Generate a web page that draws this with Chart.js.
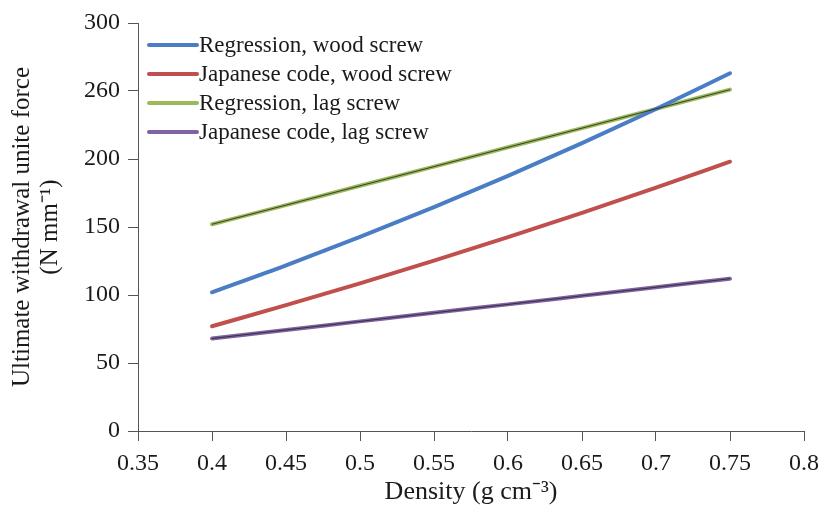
<!DOCTYPE html>
<html>
<head>
<meta charset="utf-8">
<script src="https://cdn.jsdelivr.net/npm/chart.js@4/dist/chart.umd.min.js"></script>
<style>
html,body{margin:0;padding:0;background:#fff;}
#wrap{width:827px;height:508px;}
</style>
</head>
<body>
<div id="wrap"><canvas id="c" width="827" height="508"></canvas></div>
<script>
const density = [0.4, 0.45, 0.5, 0.55, 0.6, 0.65, 0.7, 0.75];
const regressionWood = [102, 121.8, 142.7, 164.6, 187.6, 211.7, 236.8, 263];
const japaneseWood = [77, 92.5, 108.6, 125.3, 142.5, 160.4, 178.9, 198];
const regressionLag = [152, 166.1, 180.3, 194.4, 208.6, 222.7, 236.9, 251];
const japaneseLag = [68, 74.3, 80.6, 86.9, 93.1, 99.4, 105.7, 112];
const seriesLabels = ['Regression, wood screw', 'Japanese code, wood screw', 'Regression, lag screw', 'Japanese code, lag screw'];
const yTickValues = [0, 50, 100, 150, 200, 250, 300];
const yTickLabels = ['0', '50', '100', '150', '200', '260', '300'];
const xTickLabels = ['0.35', '0.4', '0.45', '0.5', '0.55', '0.6', '0.65', '0.7', '0.75', '0.8'];

const pts = arr => density.map((d, i) => ({x: d, y: arr[i]}));
const colors = ['#4a7dc4', '#c0504d', '#9bbb59', '#7f62a3'];
const serif = "'Liberation Serif', 'Times New Roman', serif";

function mainSet(label, arr, color) {
  return {label, data: pts(arr), borderColor: color, backgroundColor: color, borderWidth: 4,
    pointRadius: 0, showLine: true, borderCapStyle: 'round', cubicInterpolationMode: 'monotone', order: 1};
}
function coreSet(arr) {
  return {label: '', core: true, data: pts(arr), borderColor: 'rgba(40,40,40,0.85)', borderWidth: 1,
    pointRadius: 0, showLine: true, order: 0};
}

const legendPlugin = {
  id: 'customLegend',
  afterDraw(chart) {
    const ctx = chart.ctx;
    ctx.save();
    ctx.font = '23px ' + serif;
    ctx.textBaseline = 'middle';
    ctx.textAlign = 'left';
    let i = 0;
    chart.data.datasets.forEach(ds => {
      if (ds.core) return;
      const y = 45 + i * 29;
      ctx.strokeStyle = ds.borderColor;
      ctx.lineWidth = 4;
      ctx.lineCap = 'round';
      ctx.beginPath();
      ctx.moveTo(149, y);
      ctx.lineTo(197, y);
      ctx.stroke();
      ctx.fillStyle = '#1a1a1a';
      ctx.fillText(ds.label, 199, y + 1);
      i++;
    });
    ctx.restore();
  }
};

new Chart(document.getElementById('c'), {
  type: 'scatter',
  data: {
    datasets: [
      mainSet(seriesLabels[0], regressionWood, colors[0]),
      mainSet(seriesLabels[1], japaneseWood, colors[1]),
      mainSet(seriesLabels[2], regressionLag, colors[2]),
      mainSet(seriesLabels[3], japaneseLag, colors[3]),
      coreSet(regressionLag),
      coreSet(japaneseLag)
    ]
  },
  options: {
    responsive: false,
    animation: false,
    devicePixelRatio: 1,
    layout: {padding: {top: 23, right: 19, left: 0, bottom: 0}},
    plugins: {legend: {display: false}, tooltip: {enabled: false}},
    scales: {
      x: {
        type: 'linear', min: 0.35, max: 0.8,
        afterFit: s => { s.height = 77; },
        afterBuildTicks: s => { s.ticks = xTickLabels.map(t => ({value: parseFloat(t)})); },
        ticks: {
          callback: (v, i) => xTickLabels[i],
          font: {family: serif, size: 24}, color: '#1a1a1a', padding: 8, maxRotation: 0, autoSkip: false
        },
        grid: {drawOnChartArea: false, drawTicks: true, tickLength: 10, color: '#555', lineWidth: 1},
        border: {color: '#555', width: 1},
        title: {display: true, text: 'Density (g cm\u207B\u00B3)', font: {family: serif, size: 26},
          color: '#1a1a1a', padding: {top: 0, bottom: 0}}
      },
      y: {
        type: 'linear', min: 0, max: 300,
        afterFit: s => { s.width = 138; },
        afterBuildTicks: s => { s.ticks = yTickValues.map(v => ({value: v})); },
        ticks: {
          callback: (v, i) => yTickLabels[i],
          font: {family: serif, size: 24}, color: '#1a1a1a', padding: 8
        },
        grid: {drawOnChartArea: false, drawTicks: true, tickLength: 10, color: '#555', lineWidth: 1},
        border: {color: '#555', width: 1},
        title: {display: true, text: ['Ultimate withdrawal unite force', '(N mm\u207B\u00B9)'],
          font: {family: serif, size: 25, lineHeight: 1.12}, color: '#1a1a1a', padding: {top: 8, bottom: 0}}
      }
    }
  },
  plugins: [legendPlugin]
});
</script>
</body>
</html>
